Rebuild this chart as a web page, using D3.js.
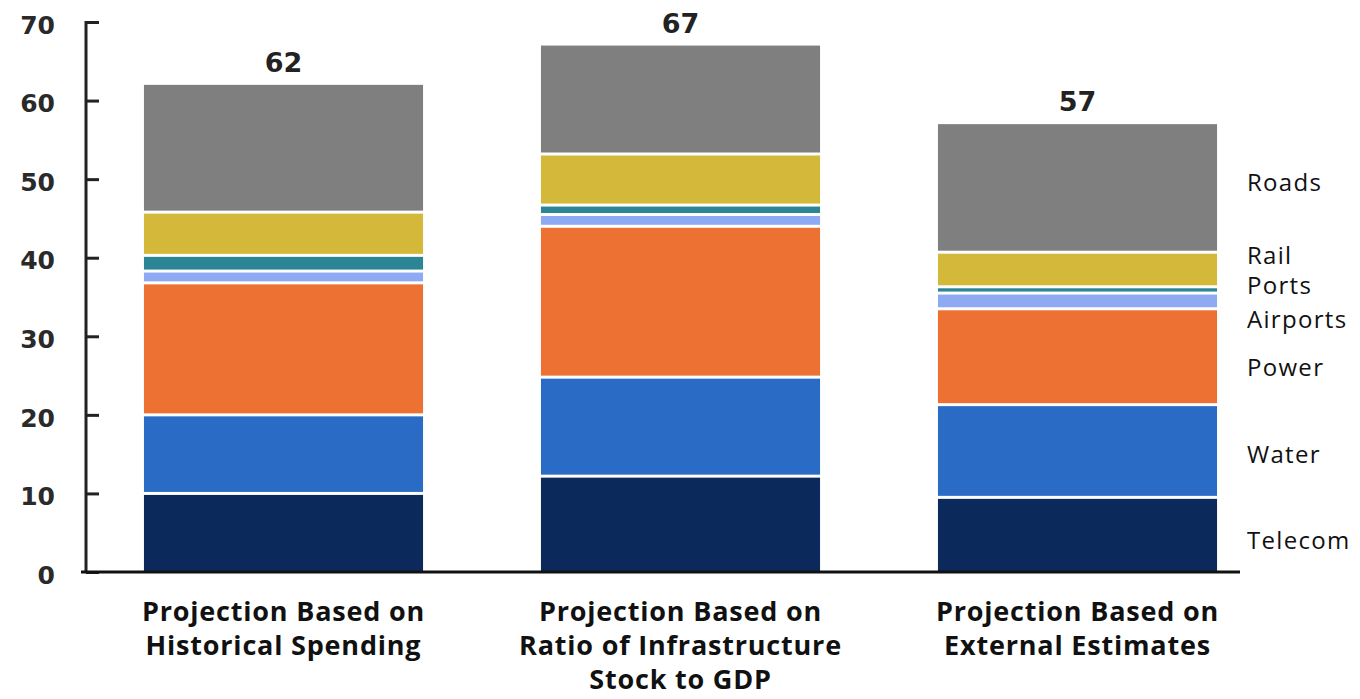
<!DOCTYPE html>
<html>
<head>
<meta charset="utf-8">
<script src="https://cdn.jsdelivr.net/npm/d3@7"></script>
<style>
  html, body { margin: 0; padding: 0; background: #fff; }
  svg { display: block; }
</style>
</head>
<body>
<svg id="chart" width="1360" height="699"></svg>
<script>
// Projected infrastructure needs by sector, three projection methods
const categories = [
  ["Projection Based on", "Historical Spending"],
  ["Projection Based on", "Ratio of Infrastructure", "Stock to GDP"],
  ["Projection Based on", "External Estimates"]
];
const sectors = ["Telecom", "Water", "Power", "Airports", "Ports", "Rail", "Roads"];
const telecom  = [10.0, 12.2, 9.5];
const water    = [10.0, 12.6, 11.8];
const power    = [16.8, 19.2, 12.2];
const airports = [1.5, 1.5, 2.0];
const ports    = [2.0, 1.2, 0.8];
const rail     = [5.5, 6.5, 4.4];
const roads    = [16.2, 13.8, 16.3];
const totals   = [62, 67, 57];
const yTicks   = [0, 10, 20, 30, 40, 50, 60, 70];
// Vertical anchor (in value units) for each sector name on the right
const sectorLabelAt = [4, 15, 26, 32.1, 36.4, 40.3, 49.6];

const colors = ["#0b2a5b", "#2a6bc6", "#ec7133", "#8eaaf3", "#2c8595", "#d3b83a", "#7f7f7f"];

const seriesValues = [telecom, water, power, airports, ports, rail, roads];
const rows = categories.map((c, i) => {
  const r = { idx: i };
  sectors.forEach((s, k) => { r[s] = seriesValues[k][i]; });
  return r;
});

const svg = d3.select("#chart");
const y = d3.scaleLinear().domain([0, 70]).range([572, 22]);
const x = d3.scaleBand().domain(d3.range(categories.length))
  .range([85, 1276]).paddingInner(0.297).paddingOuter(0.1485);

const stack = d3.stack().keys(sectors);
const layers = stack(rows);
const gap = 1.5;

svg.append("g").selectAll("g")
  .data(layers)
  .join("g")
  .attr("fill", (d, i) => colors[i])
  .selectAll("rect")
  .data(d => d)
  .join("rect")
  .attr("x", d => x(d.data.idx))
  .attr("width", x.bandwidth())
  .attr("y", d => y(d[1]) + (d[1] >= totals[d.data.idx] - 0.01 ? 0 : gap))
  .attr("height", d => {
    const top = y(d[1]) + (d[1] >= totals[d.data.idx] - 0.01 ? 0 : gap);
    const bot = y(d[0]) - (d[0] === 0 ? 0 : gap);
    return Math.max(0.8, bot - top);
  });

// Total labels above bars
svg.append("g").selectAll("text")
  .data(totals)
  .join("text")
  .attr("x", (d, i) => x(i) + x.bandwidth() / 2)
  .attr("y", d => y(d) - 13)
  .attr("text-anchor", "middle")
  .attr("font-family", "DejaVu Sans, sans-serif")
  .attr("font-weight", "bold")
  .attr("font-size", 27)
  .attr("fill", "#222")
  .text(d => d);

// Y axis
const yAxis = svg.append("g").attr("transform", "translate(86,0)")
  .call(d3.axisRight(y).tickValues(yTicks).tickSize(13).tickFormat(""));
yAxis.select(".domain").attr("stroke", "#222").attr("stroke-width", 3)
  .attr("d", `M0,${y(70) - 1}V${y(0)}`);
yAxis.selectAll(".tick line").attr("stroke", "#222").attr("stroke-width", 3);
svg.append("g").selectAll("text")
  .data(yTicks)
  .join("text")
  .attr("x", 55)
  .attr("y", d => y(d) + 3)
  .attr("dy", "0.35em")
  .attr("text-anchor", "end")
  .attr("font-family", "DejaVu Sans, sans-serif")
  .attr("font-weight", "bold")
  .attr("font-size", 25)
  .attr("fill", "#2a2a2a")
  .text(d => d);

// X baseline
svg.append("line")
  .attr("x1", 81).attr("x2", 1240)
  .attr("y1", y(0)).attr("y2", y(0))
  .attr("stroke", "#111").attr("stroke-width", 3);

// Category labels
const catG = svg.append("g").selectAll("text")
  .data(categories)
  .join("text")
  .attr("text-anchor", "middle")
  .attr("font-family", "Open Sans, sans-serif")
  .attr("font-weight", "bold")
  .attr("font-size", 27)
  .attr("letter-spacing", 0.8)
  .attr("fill", "#111");
catG.selectAll("tspan")
  .data((d, i) => d.map(t => ({ t, i })))
  .join("tspan")
  .attr("x", d => x(d.i) + x.bandwidth() / 2)
  .attr("y", (d, j) => 621 + j * 34)
  .text(d => d.t);

// Sector names on the right
svg.append("g").selectAll("text")
  .data(sectors)
  .join("text")
  .attr("x", 1247)
  .attr("y", (d, i) => y(sectorLabelAt[i]))
  .attr("dy", "0.35em")
  .attr("font-family", "Open Sans, sans-serif")
  .attr("font-size", 24)
  .attr("letter-spacing", 1.3)
  .attr("fill", "#111")
  .text(d => d);
</script>
</body>
</html>
